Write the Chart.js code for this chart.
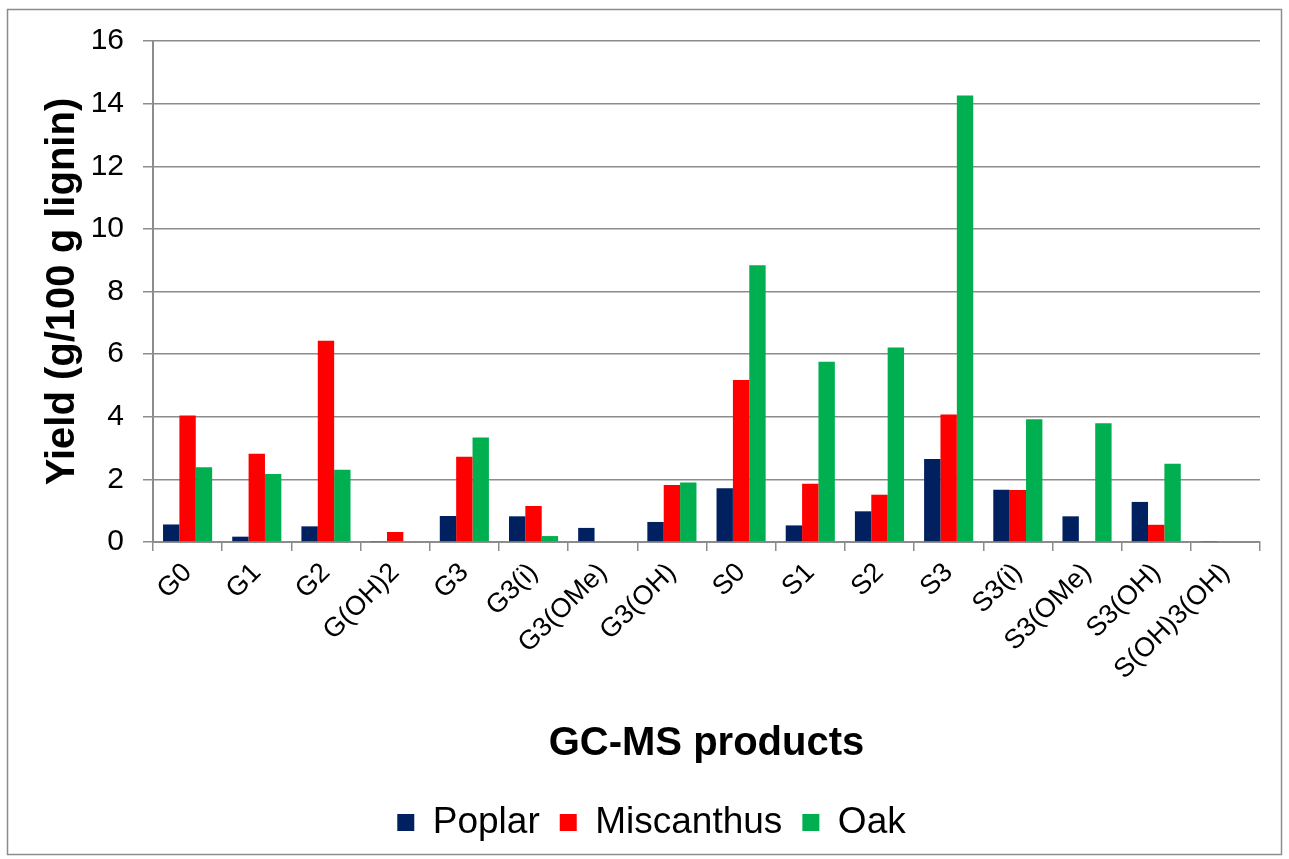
<!DOCTYPE html>
<html>
<head>
<meta charset="utf-8">
<script src="https://cdn.jsdelivr.net/npm/chart.js@4/dist/chart.umd.min.js"></script>
<style>
  html, body { margin: 0; padding: 0; background: #fff; }
  #wrap { position: absolute; left: 0; top: 0; width: 1289px; height: 859px; }
</style>
</head>
<body>
<div id="wrap"><canvas id="c" width="1289" height="859"></canvas></div>
<script>
const categories = ["G0", "G1", "G2", "G(OH)2", "G3", "G3(i)", "G3(OMe)", "G3(OH)", "S0", "S1", "S2", "S3", "S3(i)", "S3(OMe)", "S3(OH)", "S(OH)3(OH)"];
const poplar     = [0.56, 0.17, 0.50, 0.03, 0.83, 0.82, 0.45, 0.64, 1.72, 0.53, 0.98, 2.65, 1.67, 0.82, 1.28, 0.03];
const miscanthus = [4.04, 2.82, 6.43, 0.32, 2.72, 1.15, 0, 1.82, 5.17, 1.86, 1.51, 4.07, 1.66, 0, 0.55, 0];
const oak        = [2.39, 2.17, 2.31, 0, 3.34, 0.19, 0, 1.90, 8.84, 5.76, 6.21, 14.26, 3.92, 3.79, 2.50, 0];
const yTicks = [0, 2, 4, 6, 8, 10, 12, 14, 16];

const FONT = "'Liberation Sans', Arial, sans-serif";
const GRID = '#8c8c8c';

const frame = {
  id: 'frame',
  beforeDraw(chart) {
    const ctx = chart.ctx;
    ctx.save();
    ctx.fillStyle = '#fff';
    ctx.fillRect(0, 0, chart.width, chart.height);
    ctx.strokeStyle = '#8c8c8c';
    ctx.lineWidth = 1.5;
    ctx.strokeRect(7.5, 9.5, 1274, 845);
    ctx.restore();
  },
  afterLayout(chart) {
    if (chart.legend) { chart.legend.left += 18; chart.legend.right += 18; }
  }
};

new Chart(document.getElementById('c'), {
  type: 'bar',
  data: {
    labels: categories,
    datasets: [
      { label: 'Poplar', data: poplar, backgroundColor: '#002060' },
      { label: 'Miscanthus', data: miscanthus, backgroundColor: '#FF0000' },
      { label: 'Oak', data: oak, backgroundColor: '#00B050' }
    ]
  },
  options: {
    responsive: false,
    animation: false,
    devicePixelRatio: 1,
    datasets: { bar: { categoryPercentage: 0.71, barPercentage: 1.0 } },
    layout: { padding: { top: 41, right: 29, left: 7, bottom: 8 } },
    plugins: {
      legend: {
        position: 'bottom',
        labels: {
          boxWidth: 17, boxHeight: 17, padding: 20,
          color: '#000',
          font: { family: FONT, size: 37 }
        }
      },
      tooltip: { enabled: false }
    },
    scales: {
      x: {
        afterFit(scale) { scale.height = 242; },
        grid: { drawOnChartArea: false, drawTicks: true, tickLength: 9, color: GRID, lineWidth: 1.5, offset: true },
        border: { color: GRID, width: 2 },
        ticks: {
          color: '#000', font: { family: FONT, size: 27 },
          maxRotation: 45, minRotation: 45, autoSkip: false, padding: 6
        },
        title: {
          display: true, text: 'GC-MS products', color: '#000',
          font: { family: FONT, size: 40, weight: 'bold' },
          padding: { top: 0, bottom: 16 }
        }
      },
      y: {
        min: 0, max: 16,
        afterFit(scale) { scale.width = 146; },
        afterBuildTicks(axis) { axis.ticks = yTicks.map(v => ({ value: v })); },
        grid: { color: GRID, lineWidth: 1.5, tickLength: 10, drawTicks: true },
        border: { color: GRID, width: 2 },
        ticks: {
          color: '#000', font: { family: FONT, size: 30 }, padding: 19
        },
        title: {
          display: true, text: 'Yield (g/100 g lignin)', color: '#000',
          font: { family: FONT, size: 40, weight: 'bold' },
          padding: { top: 32, bottom: 0 }
        }
      }
    }
  },
  plugins: [frame]
});
</script>
</body>
</html>
